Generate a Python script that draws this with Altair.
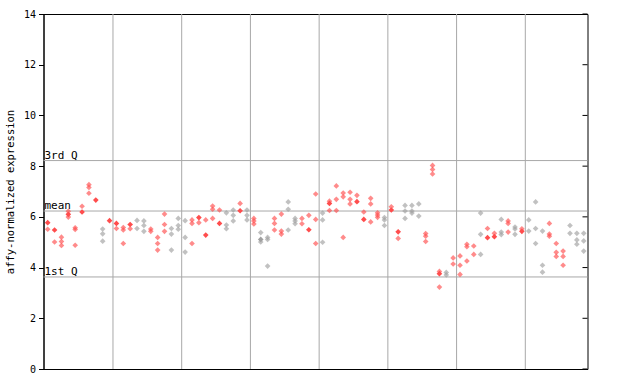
import altair as alt
import pandas as pd

# expression values per sample column (several replicates per column)
col_values = [
    [5.77, 5.51], [5.48, 5.01], [5.20, 5.03, 4.87], [6.22, 6.10, 5.99], [5.57, 5.50, 4.88],
    [6.42, 6.19], [7.27, 7.16, 6.93], [6.66], [5.52, 5.33, 5.04], [5.85],
    [5.74, 5.54], [5.58, 5.48, 4.95], [5.70, 5.53], [5.86, 5.54], [5.84, 5.66, 5.43],
    [5.52, 5.43], [5.19, 4.95, 4.69], [6.11, 5.70, 5.43], [5.54, 5.32, 4.69], [5.94, 5.66, 5.51],
    [5.85, 5.19, 4.61], [5.88, 5.74, 4.95], [5.97, 5.77], [5.88, 5.28], [6.43, 6.30, 5.94],
    [6.27, 5.74], [6.16, 5.68, 5.53], [6.27, 6.06, 5.84], [6.53, 6.24], [6.27, 6.06, 5.88],
    [5.94, 5.84, 5.72], [5.38, 5.11, 5.01], [5.19, 5.11, 4.06], [5.94, 5.74, 5.48], [6.11, 5.44, 5.32],
    [6.59, 6.30, 5.48], [5.94, 5.84, 5.73], [5.94, 5.73], [6.06, 5.49], [6.90, 5.90, 4.95],
    [6.15, 5.88, 5.00], [6.62, 6.53, 6.25], [7.22, 6.69, 6.25], [6.94, 6.79, 5.19], [6.97, 6.69, 6.51],
    [6.85, 6.60], [6.19, 5.90], [6.73, 6.51, 5.80], [6.16, 6.07, 5.98], [5.97, 5.88, 5.66],
    [6.40, 6.27], [5.41, 5.15], [6.45, 6.23, 5.94], [6.45, 6.23, 6.15], [6.51, 6.03],
    [5.34, 5.24, 5.03], [8.03, 7.87, 7.69], [3.85, 3.76, 3.23], [3.81, 3.71], [4.38, 4.14],
    [4.46, 4.09, 3.73], [4.92, 4.82, 4.26], [4.85, 4.52], [6.15, 5.31, 4.52], [5.54, 5.18],
    [5.35, 5.22], [5.90, 5.40, 5.30], [5.84, 5.74, 5.40], [5.60, 5.52, 5.31], [5.53, 5.43],
    [5.88, 5.44], [6.59, 5.54, 4.95], [5.44, 4.09, 3.82], [5.74, 5.32, 5.24], [4.95, 4.60, 4.44],
    [4.65, 4.44, 4.09], [5.66, 5.35], [5.35, 5.09, 4.92], [5.35, 5.05, 4.65],
]
# (column, value) pairs drawn as solid diamonds
solid_points = [
    (0, 5.77), (1, 5.48), (3, 6.10), (5, 6.19), (7, 6.66), (9, 5.85), (10, 5.74), (12, 5.70),
    (22, 5.97), (23, 5.28), (25, 5.74), (28, 6.24), (31, 5.11), (38, 5.49), (41, 6.53),
    (45, 6.60), (46, 5.90), (50, 6.27), (51, 5.41), (57, 3.76), (64, 5.18), (65, 5.22), (69, 5.43),
]
# columns drawn in grey
grey_columns = [8, 13, 14, 18, 19, 20, 26, 27, 29, 31, 32, 35, 36, 40, 49, 52, 53, 54,
                58, 63, 66, 68, 70, 71, 72, 76, 77, 78]

group_bounds = [9.5, 19.5, 29.5, 39.5, 49.5, 59.5, 69.5]
ref_lines = [8.22, 6.23, 3.63]
ref_labels = ["3rd Q", "mean", "1st Q"]
y_ticks = [0, 2, 4, 6, 8, 10, 12, 14]

rows = []
for c, vals in enumerate(col_values):
    for v in vals:
        rows.append({
            "col": c, "value": v,
            "solid": (c, v) in solid_points,
            "grp": "grey" if c in grey_columns else "red",
        })
pts = pd.DataFrame(rows)
bounds = pd.DataFrame({"b": group_bounds})
refs = pd.DataFrame({"v": ref_lines, "label": ref_labels})
ticks = pd.DataFrame({"t": y_ticks})

xs = alt.Scale(domain=[-0.61, 78.55], nice=False, zero=False)
ys = alt.Scale(domain=[0, 14], nice=False)

vlines = alt.Chart(bounds).mark_rule(color="#a8a8a8", strokeWidth=1).encode(
    x=alt.X("b:Q", scale=xs, axis=None)
)
hlines = alt.Chart(refs).mark_rule(color="#a8a8a8", strokeWidth=1).encode(
    y=alt.Y("v:Q", scale=ys)
)
hlabels = alt.Chart(refs).mark_text(
    align="left", baseline="bottom", dx=0, dy=0, font="DejaVu Sans Mono", fontSize=11, color="black"
).encode(x=alt.value(1), y=alt.Y("v:Q", scale=ys), text="label:N")

color_scale = alt.Scale(domain=["red", "grey"], range=["#ff4d4d", "#a0a0a0"])
points = alt.Chart(pts).mark_point(shape="diamond", filled=True, size=32).encode(
    x=alt.X("col:Q", scale=xs, axis=None),
    y=alt.Y("value:Q", scale=ys),
    color=alt.Color("grp:N", scale=color_scale, legend=None),
    opacity=alt.condition("datum.solid", alt.value(1.0), alt.value(0.65)),
)
right_ticks = alt.Chart(ticks).mark_rule(color="black").encode(
    y=alt.Y("t:Q", scale=ys), x=alt.value(539), x2=alt.value(544)
)

axis_layer = alt.Chart(ticks).mark_point(opacity=0).encode(
    y=alt.Y("t:Q", scale=ys, axis=alt.Axis(
        values=y_ticks, title="affy-normalized expression", grid=False,
        labelFont="DejaVu Sans Mono", labelFontSize=10, labelColor="black",
        titleFont="DejaVu Sans Mono", titleFontSize=10.5, titleFontWeight="normal",
        titleColor="black", titlePadding=8,
        tickColor="black", tickSize=5, domainColor="black", labelPadding=3,
    ))
)

chart = alt.layer(axis_layer, vlines, hlines, hlabels, points, right_ticks).properties(
    width=544, height=355,
    autosize=alt.AutoSizeParams(type="none"),
    padding={"left": 43.5, "top": 14, "right": 52.5, "bottom": 15},
).configure_view(stroke="black", strokeWidth=1)

chart.save("out.html", embed_options={"renderer": "svg", "actions": False})
